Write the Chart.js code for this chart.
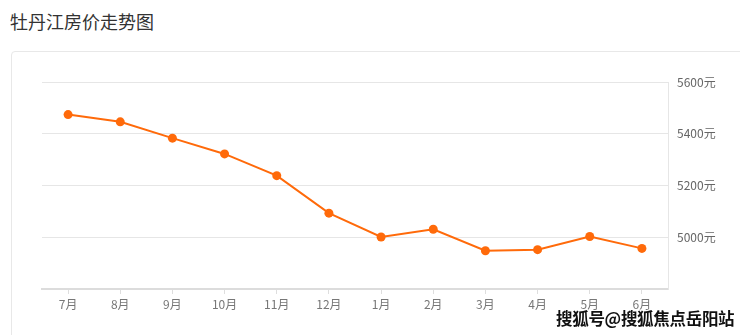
<!DOCTYPE html>
<html>
<head>
<meta charset="utf-8">
<script src="https://cdn.jsdelivr.net/npm/chart.js@4/dist/chart.umd.min.js"></script>
<style>
  html, body { margin: 0; padding: 0; background: #fff; }
  body { width: 740px; height: 335px; position: relative; overflow: hidden; font-family: "Noto Sans CJK SC", "Noto Sans", sans-serif; }
  #title { position: absolute; left: 10px; top: 8px; font-size: 18px; color: #333; line-height: 26px; }
  #card { position: absolute; left: 11px; top: 51px; width: 760px; height: 320px; border: 1px solid #e8e8e8; border-radius: 4px; box-sizing: border-box; }
  #wrap { position: absolute; left: 0; top: 0; width: 740px; height: 335px; }
  #mark { position: absolute; left: 556px; top: 306px; font-size: 16.5px; font-weight: bold; color: #111; letter-spacing: -0.3px; line-height: 24px;
          text-shadow: -1px -1px 0 #fff, 1px -1px 0 #fff, -1px 1px 0 #fff, 1px 1px 0 #fff; white-space: nowrap; }
</style>
</head>
<body>
<div id="title">牡丹江房价走势图</div>
<div id="card"></div>
<div id="wrap"><canvas id="c" width="740" height="335"></canvas></div>
<div id="mark">搜狐号@搜狐焦点岳阳站</div>
<script>
const categories = ['7月','8月','9月','10月','11月','12月','1月','2月','3月','4月','5月','6月'];
const prices = [5474, 5446, 5383, 5322, 5238, 5093, 5001, 5031, 4948, 4952, 5003, 4957];
const yTicks = [4800, 5000, 5200, 5400, 5600];
const unit = '元';

const orange = '#ff6a0a';
new Chart(document.getElementById('c'), {
  type: 'line',
  data: {
    labels: categories,
    datasets: [{
      data: prices,
      borderColor: orange,
      backgroundColor: orange,
      pointBackgroundColor: orange,
      pointBorderWidth: 0,
      pointRadius: 4.5,
      borderWidth: 2,
      tension: 0,
      fill: false
    }]
  },
  options: {
    responsive: false,
    animation: false,
    layout: { padding: { left: 42, top: 82, right: 0, bottom: 0 } },
    plugins: { legend: { display: false }, tooltip: { enabled: false } },
    scales: {
      x: {
        offset: true,
        grid: { offset: false, drawOnChartArea: false, drawTicks: true, tickLength: 5, color: '#dedede' },
        border: { color: '#dcdcdc', width: 2 },
        ticks: { color: '#777', font: { size: 12, family: '"Noto Sans CJK SC", sans-serif' }, padding: 3, maxRotation: 0, autoSkip: false },
        afterFit(s) { s.height = 46; }
      },
      y: {
        position: 'right',
        min: yTicks[0],
        max: yTicks[yTicks.length - 1],
        afterBuildTicks(s) { s.ticks = yTicks.map(v => ({ value: v })); },
        grid: { color: '#e6e6e6', drawTicks: false, lineWidth: 1 },
        border: { color: '#e6e6e6', width: 1 },
        ticks: {
          color: '#666',
          font: { size: 12, family: '"Noto Sans CJK SC", sans-serif' },
          padding: 9,
          callback(v) { return v === yTicks[0] ? '' : v + unit; }
        },
        afterFit(s) { s.width = 72; }
      }
    }
  }
});
</script>
</body>
</html>
